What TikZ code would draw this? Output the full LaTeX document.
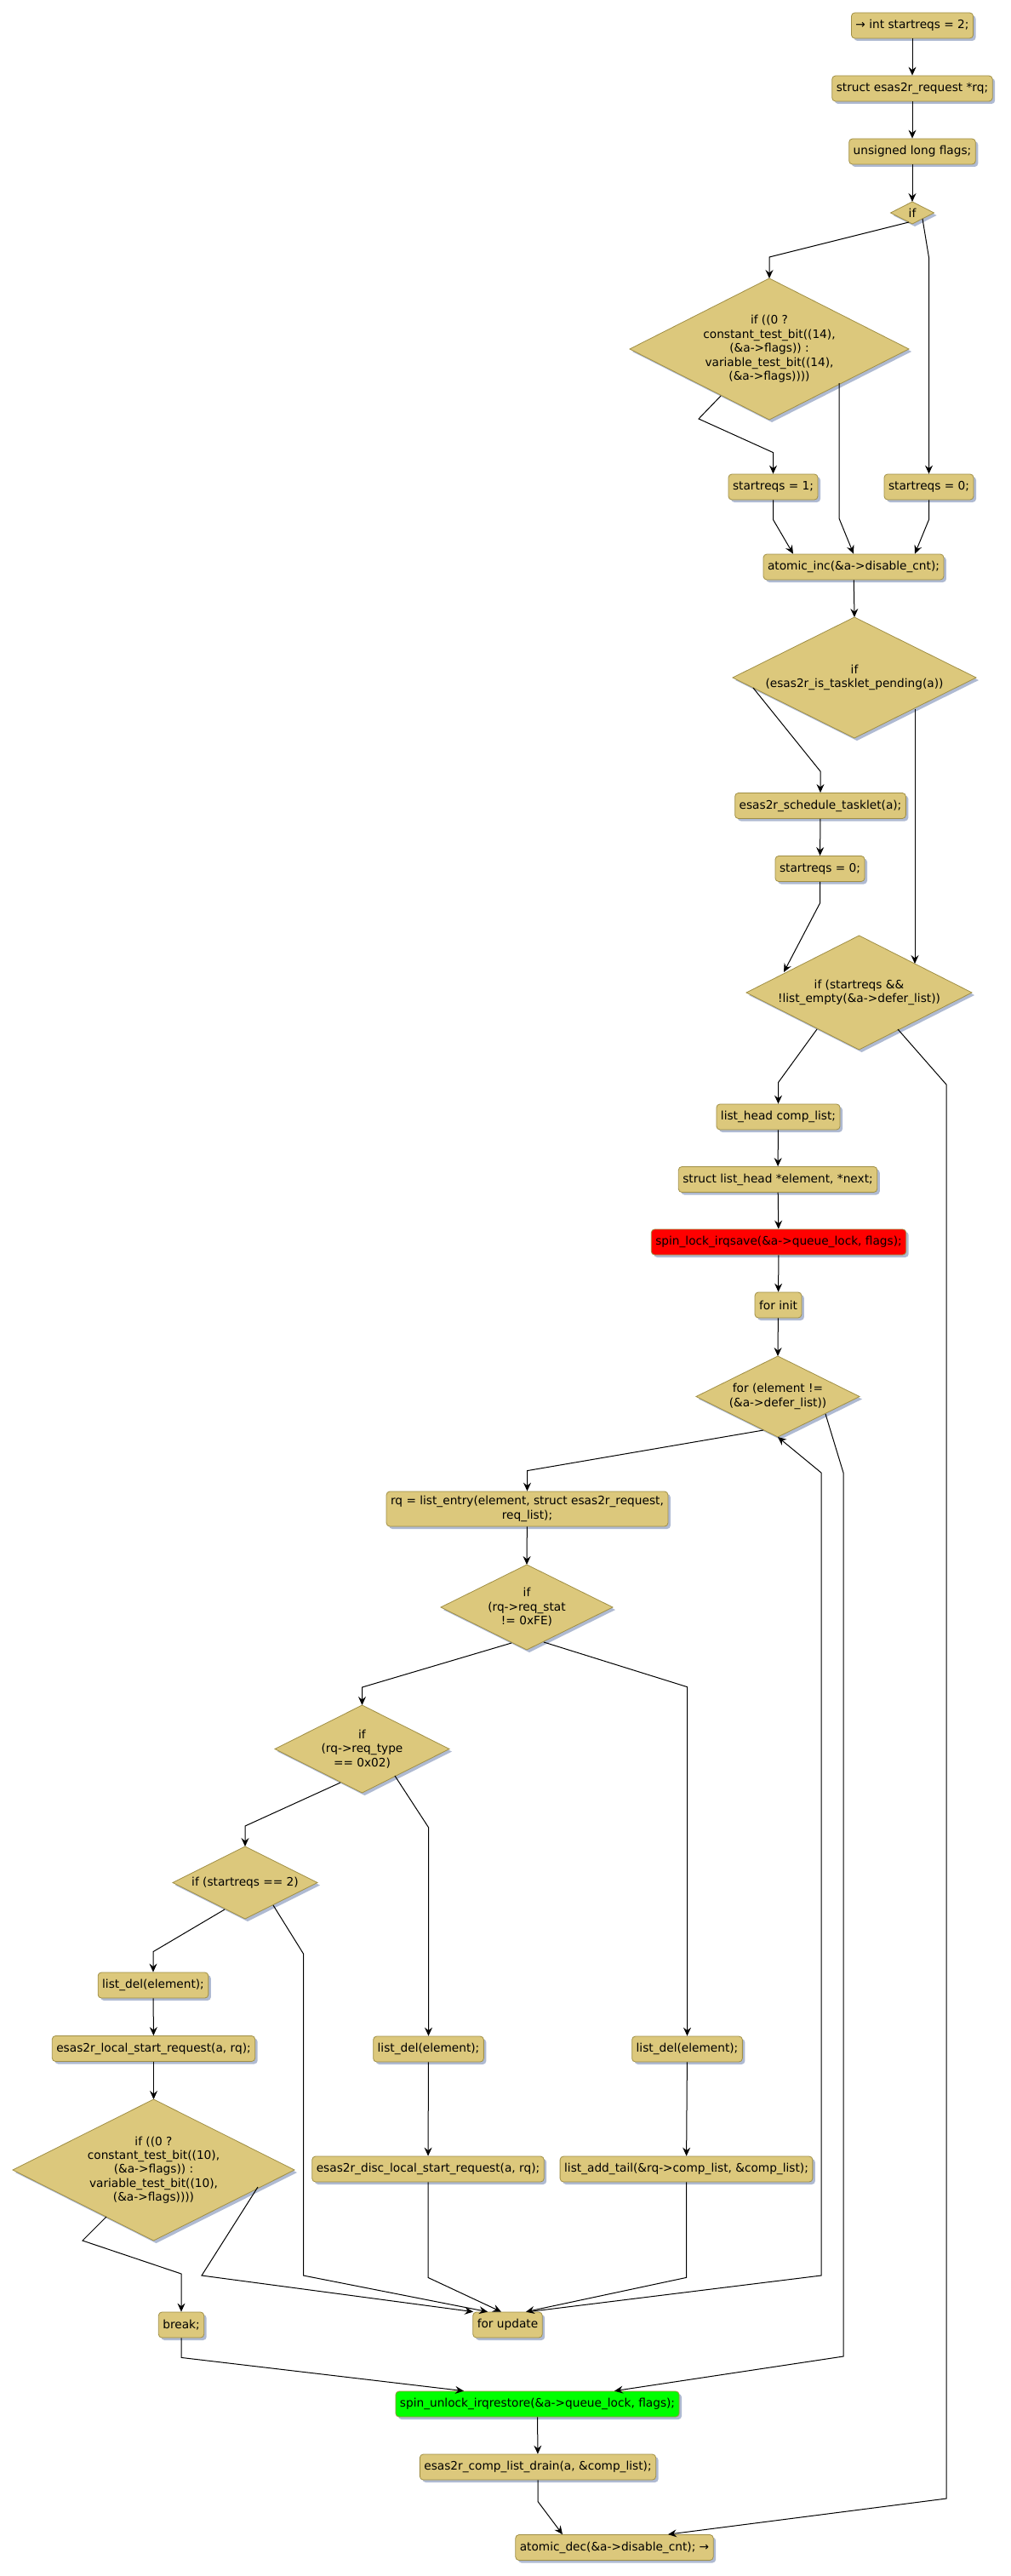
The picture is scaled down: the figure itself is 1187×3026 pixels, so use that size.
\documentclass[tikz,border=0pt]{standalone}
\usepackage{fontspec}
\setmainfont{DejaVu Sans}
\usetikzlibrary{shapes.geometric,shadows,arrows.meta,calc}
\definecolor{fillc}{HTML}{DCC87C}
\definecolor{bordc}{HTML}{A08F45}
\definecolor{shadc}{HTML}{AFBAD2}
\begin{document}
\begin{tikzpicture}[x=1pt,y=-1pt,
  font=\fontsize{13.7}{16.4}\selectfont,
  shd/.style={drop shadow={shadow xshift=3pt,shadow yshift=-3pt,fill=shadc,opacity=1}},
  box/.style={rectangle,rounded corners=4pt,draw=bordc,fill=fillc,line width=0.8pt,
    inner xsep=5pt,inner ysep=4pt,minimum height=30pt,align=center,shd},
  dia/.style={diamond,draw=bordc,fill=fillc,line width=0.8pt,inner sep=0pt,outer sep=0pt,shd},
  txt/.style={align=center,inner sep=0pt},
  arr/.style={draw=black,line width=1pt,-{Stealth[length=10pt,width=9pt,inset=3.5pt]}}]
\useasboundingbox[fill=white] (0,0) rectangle (1187,3026);

% nodes
\node[box] (n1) at (1072,30) {→ int startreqs = 2;};
\node[box] (n2) at (1072,104) {struct esas2r\_request *rq;};
\node[box] (n3) at (1072,178) {unsigned long flags;};
\node[dia,minimum width=51pt,minimum height=26pt] (if1) at (1072,250) {};
\node[txt] (if1t) at (if1) {if};
\node[dia,minimum width=328pt,minimum height=166pt] (d14) at (904,410) {};
\node[txt] (d14t) at (d14) {if ((0 ?\\constant\_test\_bit((14),\\(\&a->flags)) :\\variable\_test\_bit((14),\\(\&a->flags))))};
\node[box] (s1) at (908.5,572) {startreqs = 1;};
\node[box] (s0) at (1091.5,572) {startreqs = 0;};
\node[box] (inc) at (1003,666) {atomic\_inc(\&a->disable\_cnt);};
\node[dia,minimum width=286pt,minimum height=142pt] (dtask) at (1004,796) {};
\node[txt] (dtaskt) at (dtask) {if\\(esas2r\_is\_tasklet\_pending(a))};
\node[box] (sched) at (964,946.5) {esas2r\_schedule\_tasklet(a);};
\node[box] (s0b) at (963.5,1020.5) {startreqs = 0;};
\node[dia,minimum width=265pt,minimum height=134pt] (dstart) at (1009.5,1166) {};
\node[txt] (dstartt) at (dstart) {if (startreqs \&\&\\!list\_empty(\&a->defer\_list))};
\node[box] (lh) at (914.5,1312) {list\_head comp\_list;};
\node[box] (slh) at (914,1385.5) {struct list\_head *element, *next;};
\node[box,fill=red] (lock) at (915,1459) {spin\_lock\_irqsave(\&a->queue\_lock, flags);};
\node[box] (finit) at (914.5,1533) {for init};
\node[dia,minimum width=192pt,minimum height=95pt] (dfor) at (914,1640.5) {};
\node[txt] (dfort) at (dfor) {for (element !=\\(\&a->defer\_list))};
\node[box,minimum height=41pt] (rq) at (619.5,1772.5) {rq = list\_entry(element, struct esas2r\_request,\\req\_list);};
\node[dia,minimum width=202pt,minimum height=100pt] (dstat) at (619,1888) {};
\node[txt] (dstatt) at (dstat) {if\\(rq->req\_stat\\!= 0xFE)};
\node[dia,minimum width=205pt,minimum height=103pt] (dtype) at (425.5,2054.5) {};
\node[txt] (dtypet) at (dtype) {if\\(rq->req\_type\\== 0x02)};
\node[dia,minimum width=170pt,minimum height=85pt] (d2) at (288,2211.5) {};
\node[txt] (d2t) at (d2) {if (startreqs == 2)};
\node[box] (del1) at (180,2332) {list\_del(element);};
\node[box] (local) at (180.5,2406.5) {esas2r\_local\_start\_request(a, rq);};
\node[dia,minimum width=331pt,minimum height=166pt] (d10) at (180.5,2549) {};
\node[txt] (d10t) at (d10) {if ((0 ?\\constant\_test\_bit((10),\\(\&a->flags)) :\\variable\_test\_bit((10),\\(\&a->flags))))};
\node[box] (brk) at (213,2731) {break;};
\node[box] (del2) at (503.5,2407) {list\_del(element);};
\node[box] (disc) at (503,2548) {esas2r\_disc\_local\_start\_request(a, rq);};
\node[box] (del3) at (807.5,2407) {list\_del(element);};
\node[box] (addt) at (806.5,2548) {list\_add\_tail(\&rq->comp\_list, \&comp\_list);};
\node[box] (fupd) at (596.5,2731) {for update};
\node[box,fill=green] (unlock) at (631.5,2824) {spin\_unlock\_irqrestore(\&a->queue\_lock, flags);};
\node[box] (drain) at (632,2898) {esas2r\_comp\_list\_drain(a, \&comp\_list);};
\node[box] (dec) at (722,2992.5) {atomic\_dec(\&a->disable\_cnt); →};

% connectors
\draw[arr] (n1) -- (n2);
\draw[arr] (n2) -- (n3);
\draw[arr] (n3) -- (if1.north);
\draw[arr] ($(if1)+(-4,11)$) -- ($(d14.north)+(0,-25)$) -- (d14.north);
\draw[arr] ($(if1)+(12,7)$) -- ($(s0.north)+(0,-254)$) -- (s0.north);
\draw[arr] ($(d14)+(-57,55)$) -- ($(d14)+(-83,82)$) -- ($(s1.north)+(0,-25)$) -- (s1.north);
\draw[arr] ($(d14)+(82,40)$) -- ++(0,159) -- (inc.north);
\draw[arr] (s1.south) -- ++(0,23) -- ($(inc.north)+(-71,0)$);
\draw[arr] (s0.south) -- ++(0,23) -- ($(inc.north)+(72,0)$);
\draw[arr] (inc) -- (dtask.north);
\draw[arr] ($(dtask)+(-119,12)$) -- ($(sched.north)+(0,-25)$) -- (sched.north);
\draw[arr] (sched) -- (s0b);
\draw[arr] (s0b.south) -- ++(0,25) -- ($(dstart)+(-88.5,-24)$);
\draw[arr] ($(dtask)+(71,37)$) -- ($(dstart)+(65.5,-34)$);
\draw[arr] ($(dstart)+(-49.5,43)$) -- ($(lh.north)+(0,-25)$) -- (lh.north);
\draw[arr] ($(dstart)+(45.5,43)$) -- (1112,1274) -- (1112,2935) -- ($(dec.north)+(63,0)$);
\draw[arr] (lh) -- (slh);
\draw[arr] (slh) -- (lock);
\draw[arr] (lock) -- (finit);
\draw[arr] (finit) -- (dfor.north);
\draw[arr] ($(dfor)+(-17,39.5)$) -- ($(rq.north)+(0,-24)$) -- (rq.north);
\draw[arr] ($(dfor)+(56,20.5)$) -- (991,1730) -- (991,2768) -- ($(unlock.north)+(90.5,0)$);
\draw[arr] (rq) -- (dstat.north);
\draw[arr] ($(dstat)+(-18,42)$) -- ($(dtype.north)+(0,-21)$) -- (dtype.north);
\draw[arr] ($(dstat)+(20,41)$) -- ($(del3.north)+(0,-410)$) -- (del3.north);
\draw[arr] ($(dtype)+(-25.5,39.5)$) -- ($(d2.north)+(0,-24)$) -- (d2.north);
\draw[arr] ($(dtype)+(38.5,31.5)$) -- ($(del2.north)+(0,-245)$) -- (del2.north);
\draw[arr] ($(d2)+(-24,31.5)$) -- ($(del1.north)+(0,-24)$) -- (del1.north);
\draw[arr] ($(d2)+(33,26.5)$) -- (356.5,2295) -- (356.5,2673) -- ($(fupd.north)+(-23.5,0)$);
\draw[arr] (del1) -- (local);
\draw[arr] (local) -- (d10.north);
\draw[arr] ($(d10)+(-55.5,55)$) -- (97,2632) -- (213,2671) -- (brk.north);
\draw[arr] ($(d10)+(122.5,20)$) -- (237,2673) -- ($(fupd.north)+(-40.5,0)$);
\draw[arr] (del2) -- (disc);
\draw[arr] (disc.south) -- ++(0,112) -- ($(fupd.north)+(-7.5,0)$);
\draw[arr] (del3) -- (addt);
\draw[arr] (addt.south) -- ++(0,112) -- ($(fupd.north)+(21.5,0)$);
\draw[arr] ($(fupd.north)+(24.5,0)$) -- (965,2673) -- (965,1730) -- (dfor.south);
\draw[arr] (brk.south) -- ++(0,23) -- ($(unlock.north)+(-86.5,0)$);
\draw[arr] (unlock) -- (drain);
\draw[arr] (drain.south) -- ++(0,25) -- ($(dec.north)+(-61,0)$);
\end{tikzpicture}
\end{document}
